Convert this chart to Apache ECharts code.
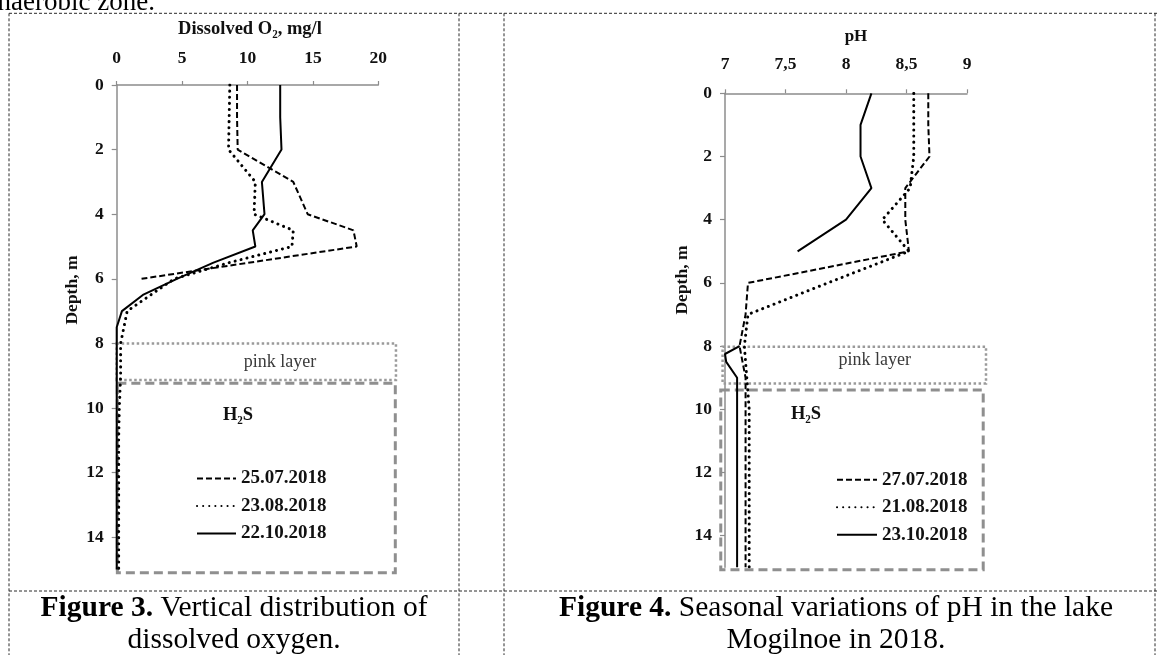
<!DOCTYPE html>
<html><head><meta charset="utf-8">
<script src="https://cdn.jsdelivr.net/npm/echarts@6/dist/echarts.min.js"></script>
<style>html,body{margin:0;padding:0;background:#fff}#c{width:1158px;height:655px}</style>
</head><body><div id="c"></div>
<script>
const SERIF = '"Liberation Serif", "Times New Roman", serif';

// ---------- Figure 3: dissolved oxygen ----------
const o2Ticks = [0, 5, 10, 15, 20];
const depthTicks = [0, 2, 4, 6, 8, 10, 12, 14];
const o2Names = ['25.07.2018', '23.08.2018', '22.10.2018'];
const o2JulDepth = [0, 1, 2, 3, 4, 4.5, 5, 6];
const o2JulValue = [9.2, 9.2, 9.25, 13.5, 14.6, 18.1, 18.35, 1.9];
const o2AugDepth = [0, 1, 2, 3, 4, 4.5, 5, 5.5, 6, 7, 8, 9, 10, 11, 12, 13, 14, 15];
const o2AugValue = [8.65, 8.6, 8.55, 10.6, 10.5, 13.5, 13.4, 8.6, 4.4, 0.8, 0.3, 0.3, 0.2, 0.15, 0.15, 0.15, 0.15, 0.15];
const o2OctDepth = [0, 1, 2, 3, 4, 4.5, 5, 5.5, 6, 6.5, 7, 7.5, 8, 9, 10, 11, 12, 13, 14, 15];
const o2OctValue = [12.5, 12.5, 12.6, 11.1, 11.3, 10.4, 10.6, 7.4, 4.6, 2.0, 0.4, 0, 0, 0, 0, 0, 0, 0, 0, 0];
// zones: [x from, x to, depth from, depth to]
const o2PinkZone = [0, 21.35, 8.0, 9.13];
const o2H2sZone = [0.05, 21.3, 9.23, 15.1];

// ---------- Figure 4: pH ----------
const phTicks = [7, 7.5, 8, 8.5, 9];
const phNames = ['27.07.2018', '21.08.2018', '23.10.2018'];
const phJulDepth = [0, 1, 2, 3, 4, 5, 6, 7, 8, 9, 10, 11, 12, 13, 14, 15];
const phJulValue = [8.68, 8.68, 8.69, 8.49, 8.49, 8.52, 7.19, 7.17, 7.12, 7.17, 7.17, 7.17, 7.17, 7.17, 7.17, 7.17];
const phAugDepth = [0, 1, 2, 3, 4, 5, 6, 7, 8, 9, 10, 11, 12, 13, 14, 15];
const phAugValue = [8.56, 8.56, 8.56, 8.53, 8.30, 8.52, 7.85, 7.19, 7.16, 7.18, 7.2, 7.2, 7.2, 7.2, 7.2, 7.2];
const phOctDepth = [0, 1, 2, 3, 4, 5, 6, 8, 8.25, 8.5, 9, 10, 11, 12, 13, 14, 15];
const phOctValue = [8.21, 8.12, 8.12, 8.21, 8.0, 7.6, null, 7.12, 7.0, 7.01, 7.1, 7.1, 7.1, 7.1, 7.1, 7.1, 7.1];
const phPinkZone = [6.98, 9.157, 8.02, 9.18];
const phH2sZone = [6.965, 9.134, 9.39, 15.08];

function pairs(vals, depths) {
  return depths.map((d, i) => [vals[i] == null ? '-' : vals[i], d]);
}

const AX = '#8c8c8c';
const tickFont = { fontFamily: SERIF, fontWeight: 'bold', fontSize: 17.5, color: '#111' };
const styles = [
  { type: [6, 3], width: 2 },
  { type: [0.1, 6], width: 3, cap: 'round' },
  { type: 'solid', width: 2 }
];

function xAx(grid, min, max, interval, name, margin, gap, fmt, namePad, nameSize) {
  return {
    gridIndex: grid, type: 'value', position: 'top', min: min, max: max, interval: interval,
    axisLine: { show: true, onZero: false, lineStyle: { color: AX, width: 1.5 } },
    axisTick: { show: true, inside: false, length: 4, lineStyle: { color: AX, width: 1.2 } },
    axisLabel: Object.assign({ margin: margin, formatter: fmt }, tickFont),
    splitLine: { show: false },
    name: name, nameLocation: 'middle', nameGap: gap,
    nameTextStyle: { fontFamily: SERIF, fontWeight: 'bold', fontSize: nameSize, color: '#111', padding: namePad || 0 }
  };
}
function yAx(grid) {
  return {
    gridIndex: grid, type: 'value', inverse: true, min: 0, max: 15,
    axisLine: { show: true, onZero: false, lineStyle: { color: AX, width: 1.5 } },
    axisTick: { show: true, inside: false, length: 5, customValues: depthTicks, lineStyle: { color: AX, width: 1.2 } },
    axisLabel: Object.assign({ margin: 13, customValues: depthTicks }, tickFont),
    splitLine: { show: false }
  };
}

const o2Series = [[o2JulValue, o2JulDepth], [o2AugValue, o2AugDepth], [o2OctValue, o2OctDepth]];
const phSeries = [[phJulValue, phJulDepth], [phAugValue, phAugDepth], [phOctValue, phOctDepth]];
const series = [];
o2Series.forEach((s, i) => series.push({
  name: o2Names[i], type: 'line', xAxisIndex: 0, yAxisIndex: 0, data: pairs(s[0], s[1]),
  symbol: 'none', silent: true, animation: false, connectNulls: false,
  lineStyle: Object.assign({ color: '#000' }, styles[i])
}));
phSeries.forEach((s, i) => series.push({
  name: phNames[i], type: 'line', xAxisIndex: 1, yAxisIndex: 1, data: pairs(s[0], s[1]),
  symbol: 'none', silent: true, animation: false, connectNulls: false,
  lineStyle: Object.assign({ color: '#000' }, styles[i])
}));

const legendText = { fontFamily: SERIF, fontWeight: 'bold', fontSize: 19, color: '#111' };
const chart = echarts.init(document.getElementById('c'), null, { renderer: 'canvas' });
chart.setOption({
  animation: false,
  backgroundColor: '#fff',
  grid: [
    { left: 116.7, top: 85, width: 261.6, height: 484.5, outerBoundsMode: 'none' },
    { left: 725, top: 93.3, width: 242, height: 474, outerBoundsMode: 'none' }
  ],
  xAxis: [
    xAx(0, 0, 20, 5, 'Dissolved O\u2082, mg/l', 17.5, 46, null, [0, 0, 0, 5], 18.5),
    xAx(1, 7, 9, 0.5, 'pH', 19.5, 48, v => String(v).replace('.', ','), [0, 0, 0, 20], 17)
  ],
  yAxis: [yAx(0), yAx(1)],
  legend: [
    { data: o2Names, orient: 'vertical', left: 196, top: 469, itemWidth: 39, itemHeight: 20, itemGap: 8.5,
      padding: 0, selectedMode: false, textStyle: legendText, itemStyle: { opacity: 0 } },
    { data: phNames, orient: 'vertical', left: 836, top: 470.3, itemWidth: 40, itemHeight: 18, itemGap: 8.5,
      padding: 0, selectedMode: false, textStyle: legendText, itemStyle: { opacity: 0 } }
  ],
  series: series
});

function zoneRect(idx, z) {
  const p0 = chart.convertToPixel({ xAxisIndex: idx, yAxisIndex: idx }, [z[0], z[2]]);
  const p1 = chart.convertToPixel({ xAxisIndex: idx, yAxisIndex: idx }, [z[1], z[3]]);
  return { x: p0[0], y: p0[1], width: p1[0] - p0[0], height: p1[1] - p0[1] };
}
const pinkStyle = { fill: null, stroke: '#9a9a9a', lineWidth: 2.5, lineDash: [2.5, 2.5] };
const h2sStyle = { fill: null, stroke: '#8f8f8f', lineWidth: 3, lineDash: [9, 5] };
const tbl = { stroke: '#2a2a2a', lineWidth: 1, lineDash: [3, 2] };
function vline(x, y1, y2) { return { type: 'line', shape: { x1: x, y1: y1, x2: x, y2: y2 }, style: tbl, silent: true }; }
function hline(y, x1, x2) { return { type: 'line', shape: { x1: x1, y1: y, x2: x2, y2: y }, style: tbl, silent: true }; }
function txt(x, y, text, opts) {
  return Object.assign({ type: 'text', x: x, y: y, silent: true,
    style: Object.assign({ text: text, align: 'center', verticalAlign: 'middle', fill: '#111' }, opts.style) },
    opts.extra || {});
}
const capRich = {
  b: { fontFamily: SERIF, fontSize: 29.5, fontWeight: 'bold', fill: '#000' },
  n: { fontFamily: SERIF, fontSize: 29.5, fill: '#000' }
};
chart.setOption({
  graphic: [
    // table frame
    hline(13.3, 9, 1158), hline(591, 9, 1158),
    vline(9, 13.3, 655), vline(459, 13.3, 655), vline(504, 13.3, 655), vline(1155, 13.3, 655),
    // zone boxes
    { type: 'rect', shape: zoneRect(0, o2PinkZone), style: pinkStyle, silent: true, z: 1 },
    { type: 'rect', shape: zoneRect(0, o2H2sZone), style: h2sStyle, silent: true, z: 1 },
    { type: 'rect', shape: zoneRect(1, phPinkZone), style: pinkStyle, silent: true, z: 1 },
    { type: 'rect', shape: zoneRect(1, phH2sZone), style: h2sStyle, silent: true, z: 1 },
    txt(280, 362, 'pink layer', { style: { font: '18px ' + SERIF, fill: '#3a3a3a' } }),
    txt(874.7, 360.7, 'pink layer', { style: { font: '18px ' + SERIF, fill: '#3a3a3a' } }),
    txt(238, 415, 'H\u2082S', { style: { font: 'bold 18.5px ' + SERIF } }),
    txt(806, 414, 'H\u2082S', { style: { font: 'bold 18.5px ' + SERIF } }),
    // y axis names
    txt(72, 290, 'Depth, m', { style: { font: 'bold 17.5px ' + SERIF }, extra: { rotation: Math.PI / 2 } }),
    txt(682.5, 280, 'Depth, m', { style: { font: 'bold 17.5px ' + SERIF }, extra: { rotation: Math.PI / 2 } }),
    // text above table
    txt(155, 2.8, 'anaerobic zone.', { style: { font: '27px ' + SERIF, fill: '#000', align: 'right' } }),
    // captions
    txt(234, 608, '{b|Figure 3.}{n| Vertical distribution of}', { style: { rich: capRich } }),
    txt(234, 640, '{n|dissolved oxygen.}', { style: { rich: capRich } }),
    txt(836, 608, '{b|Figure 4.}{n| Seasonal variations of pH in the lake}', { style: { rich: capRich } }),
    txt(836, 640, '{n|Mogilnoe in 2018.}', { style: { rich: capRich } })
  ]
});
</script>
</body></html>
